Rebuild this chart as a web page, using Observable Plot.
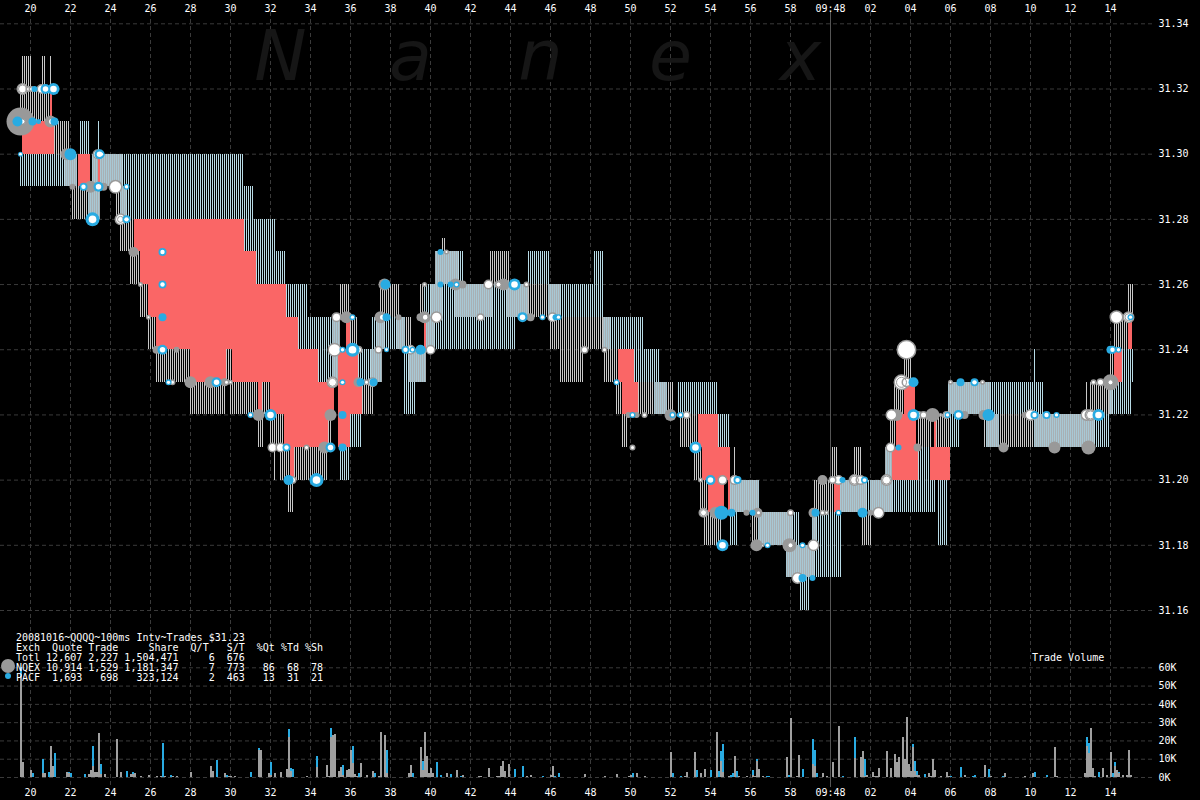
<!DOCTYPE html>
<html><head><meta charset="utf-8">
<script src="https://cdn.jsdelivr.net/npm/d3@7"></script>
<script src="https://cdn.jsdelivr.net/npm/@observablehq/plot@0.6"></script>
<style>
html,body{margin:0;padding:0;background:#000;overflow:hidden}
#wrap{position:relative;width:1200px;height:800px;background:#000}
#wrap svg{display:block}
#legend{position:absolute;left:16px;top:633px;margin:0;color:#fff;font:10px/10px "DejaVu Sans Mono",monospace;white-space:pre}
#volTitle{position:absolute;left:1032px;top:653px;color:#fff;font:10px/10px "DejaVu Sans Mono",monospace}
.mk{position:absolute;border-radius:50%}
</style></head><body>
<svg width="0" height="0" style="position:absolute">
<defs>
<pattern id="stripeGrey" patternUnits="userSpaceOnUse" width="2" height="2"><rect width="1" height="2" fill="#c8c8c8"/></pattern>
<pattern id="stripeCyan" patternUnits="userSpaceOnUse" width="2" height="2"><rect width="1" height="2" fill="#b8dbe6"/></pattern>
<pattern id="stripeMix" patternUnits="userSpaceOnUse" width="2" height="2"><rect width="2" height="2" fill="#a8b0b4"/><rect width="1" height="2" fill="#a8c8d4"/></pattern>
</defs></svg>
<div id="wrap">
<div id="top"></div><div id="bottom"></div>
<pre id="legend">20081016~QQQQ~100ms Intv~Trades $31.23
Exch  Quote Trade     Share  Q/T   S/T  %Qt %Td %Sh
Totl 12,607 2,227 1,504,471     6  676
NQEX 10,914 1,529 1,181,347     7  773   86  68  78
PACF  1,693   698   323,124     2  463   13  31  21</pre>
<div id="volTitle">Trade Volume</div>
<div class="mk" style="left:1px;top:659px;width:14px;height:14px;background:#999"></div>
<div class="mk" style="left:5px;top:673px;width:6px;height:6px;background:#29abe2"></div>
</div>
<script>
// Time in seconds after 09:47:00, prices in dollars, volume in thousands of shares
const secondTicks = d3.range(20, 76, 2);
const priceTicks = [31.16,31.18,31.20,31.22,31.24,31.26,31.28,31.30,31.32,31.34];
const volumeTicks = [0,10,20,30,40,50,60];
const watermarkLetters = ["N","a","n","e","x"];
const watermarkTimes = [32.5,39,45.5,52,58.5];

// [t1, t2, low, high]
const greyQuotes = [
[19.6,20.1,31.32,31.33],[20.6,20.8,31.32,31.33],[21,21.1,31.32,31.33],[19.5,21,31.31,31.32],[21.2,22,31.30,31.31],
[22.1,22.9,31.28,31.29],[24.3,24.5,31.28,31.29],[24.5,25.2,31.27,31.28],[25,25.5,31.26,31.27],[25.5,25.9,31.25,31.26],
[25.9,26.3,31.24,31.25],[26.3,28,31.23,31.24],[29.8,30.1,31.23,31.24],[28,29.8,31.22,31.23],[30,31.4,31.22,31.23],
[31.6,32,31.22,31.23],[36.6,37.2,31.22,31.23],[31.4,31.65,31.21,31.22],[32,32.7,31.21,31.22],[34.9,35.05,31.21,31.22],
[32.2,32.25,31.20,31.21],[32.5,33,31.20,31.21],[33.2,34.85,31.20,31.21],[32.9,33.15,31.19,31.20],[35.5,35.95,31.25,31.26],
[36,36.35,31.24,31.25],[37.5,38.45,31.25,31.26],[38.75,39.05,31.24,31.25],[39.5,39.7,31.25,31.26],[40.6,40.8,31.27,31.274],
[43,43.95,31.26,31.27],[44.9,45.9,31.25,31.26],[45.95,48.65,31.24,31.25],[46.5,47.65,31.23,31.24],[48.7,49.4,31.23,31.24],
[49.3,49.6,31.22,31.23],[50.4,51.2,31.22,31.23],[51.85,52.15,31.22,31.23],[49.6,49.9,31.21,31.22],[52.5,53.4,31.21,31.22],
[53.2,53.6,31.20,31.21],[55.2,55.25,31.20,31.21],[53.5,53.9,31.19,31.20],[54.75,54.8,31.19,31.20],[53.7,54.55,31.18,31.19],
[56.1,56.4,31.18,31.19],[59.2,60.2,31.19,31.20],[60.1,60.4,31.20,31.21],[61.2,61.6,31.20,31.21],[61.6,62.1,31.18,31.19],
[63,63.3,31.21,31.22],[64.35,65.1,31.21,31.22],[65.25,66,31.21,31.22],[63.2,63.7,31.22,31.23],[63.7,64.1,31.23,31.24],
[65.05,65.1,31.22,31.23],[67.7,67.8,31.21,31.22],[68.45,70.2,31.21,31.22],[72.8,72.85,31.22,31.23],[73,74,31.22,31.23],
[74,74.2,31.23,31.24],[74.2,74.9,31.24,31.25],[74.9,75.15,31.25,31.26]];

const cyanQuotes = [
[19.5,21.75,31.29,31.30],[22.45,23,31.30,31.31],[23.4,23.5,31.30,31.31],[21.35,21.4,31.28,31.29],[24.6,30.7,31.29,31.30],
[24.8,31.2,31.28,31.29],[30.7,32.3,31.27,31.28],[31.3,32.8,31.26,31.27],[32.8,33.9,31.25,31.26],[33.4,35.1,31.24,31.25],
[34.4,35.1,31.23,31.24],[36,36.6,31.21,31.22],[35.45,36,31.20,31.21],[36.4,37.05,31.23,31.24],[37.05,37.35,31.24,31.25],
[37.7,38.35,31.24,31.25],[38.65,38.95,31.23,31.24],[38.65,39.3,31.22,31.23],[39.7,40.05,31.25,31.26],[40.2,44.3,31.24,31.25],
[40.6,41.25,31.25,31.26],[43.1,43.85,31.25,31.26],[41.4,41.65,31.26,31.27],[44.85,46,31.26,31.27],[48.15,48.7,31.25,31.27],
[46.5,48.15,31.25,31.26],[49,50.7,31.24,31.25],[50.2,51.5,31.23,31.24],[52.35,54.4,31.22,31.23],[54.4,55,31.21,31.22],
[55.85,55.9,31.20,31.21],[54.95,55.4,31.18,31.19],[56.45,56.5,31.19,31.20],[58.1,58.5,31.18,31.19],[59.2,60.6,31.17,31.19],
[58.45,59,31.16,31.17],[61.8,62,31.19,31.20],[63.1,65.3,31.19,31.20],[65.35,65.9,31.18,31.20],[64.4,65,31.20,31.21],
[66,66.5,31.21,31.22],[68,70.7,31.22,31.23],[70.15,70.3,31.23,31.24],[73.2,74,31.21,31.22],[74.1,75.1,31.22,31.23],
[74.6,75.2,31.23,31.24]];

const sharedQuotes = [
[21.75,22.35,31.29,31.30],[23.1,24.6,31.29,31.30],[22.9,23.5,31.28,31.29],[24.5,24.8,31.28,31.29],[35.1,35.5,31.24,31.25],
[35.1,35.4,31.23,31.24],[37.35,37.7,31.24,31.25],[37.05,37.6,31.23,31.24],[38.35,38.75,31.24,31.25],[38.95,39.8,31.23,31.24],
[40.05,40.6,31.25,31.26],[41.25,43.1,31.25,31.26],[43.85,44.9,31.25,31.26],[45.9,46.5,31.25,31.26],[38.5,38.65,31.24,31.25],
[39.8,40.2,31.24,31.25],[40.25,41.4,31.26,31.27],[48.65,49,31.24,31.25],[51.2,51.85,31.22,31.23],[55,56.45,31.19,31.20],
[56.4,58.1,31.18,31.19],[57.8,59.2,31.17,31.18],[59.1,59.3,31.18,31.19],[60.5,61.8,31.19,31.20],[62,63.1,31.19,31.20],
[62.75,63.1,31.20,31.21],[65.9,68,31.22,31.23],[67.8,68.45,31.21,31.22],[70.2,73.2,31.21,31.22],[73.95,74.1,31.22,31.23]];

const crossedQuotes = [
[21,21.1,31.31,31.32],[19.6,21.2,31.30,31.31],[22.4,23,31.29,31.30],[23.4,23.5,31.29,31.30],[25.2,30.7,31.27,31.28],
[25.5,31.3,31.26,31.27],[25.9,32.8,31.25,31.26],[26.3,33.4,31.24,31.25],[28,29.8,31.23,31.24],[30.1,34.4,31.23,31.24],
[31.4,31.6,31.22,31.23],[32,35.2,31.22,31.23],[35.4,36.6,31.22,31.23],[35.4,36.4,31.23,31.24],[35.8,36,31.24,31.25],
[32.7,34.9,31.21,31.22],[35.4,36,31.21,31.22],[33,33.2,31.20,31.21],[39.7,39.8,31.24,31.25],[49.4,50.2,31.23,31.24],
[49.6,50.4,31.22,31.23],[53.4,54.4,31.21,31.22],[53.6,55,31.20,31.21],[53.9,54.7,31.19,31.20],[54.9,55,31.19,31.20],
[60.2,60.5,31.19,31.20],[63.7,64.25,31.22,31.23],[63.3,64.3,31.21,31.22],[63.1,64.4,31.20,31.21],[65,66,31.20,31.21],
[65.2,65.3,31.21,31.22],[74.9,75.1,31.24,31.25],[74.2,74.6,31.23,31.24]];

// [t, price, radius]
const nqexTrades = [
[19.5,31.31,14],[21,31.31,6],[21.8,31.30,6],[22.1,31.29,3],[23,31.29,6],[23.65,31.29,4],[25.15,31.27,5],[26.3,31.24,4],
[27.3,31.24,3],[28,31.23,6],[29,31.23,6],[29.7,31.23,4],[31.4,31.22,6],[34.7,31.21,6],[35,31.22,6],[36.4,31.23,5],
[35.8,31.25,6],[37.5,31.25,6],[38.4,31.25,3],[39.5,31.25,4],[37.7,31.26,6],[39.7,31.25,6],[41.25,31.26,6],[41.6,31.26,4],
[43.65,31.26,6],[45,31.25,4],[49.9,31.22,3],[50.3,31.22,3],[52,31.22,6],[54.25,31.19,6],[55,31.19,3],[55.8,31.19,3],
[56.35,31.19,5],[56.3,31.18,6],[57.95,31.18,7],[59.15,31.19,5],[59.6,31.20,5],[62,31.19,3],[64.35,31.21,4],[63.3,31.22,6],
[65.1,31.22,7],[66.7,31.22,4],[67.65,31.22,5],[68.65,31.21,5],[69.7,31.22,3],[71.2,31.21,6],[72.9,31.21,7],[74,31.23,8],
[74.4,31.25,5]];
const whiteTrades = [
[19.6,31.32,6],[19.9,31.32,3],[20.05,31.32,3],[20.55,31.32,5],[19.6,31.31,4],[21.05,31.31,4],[23.35,31.30,5],[24.25,31.29,7],
[24.5,31.28,6],[25.5,31.26,2.5],[25.9,31.25,2.5],[27.1,31.23,3],[29.8,31.23,3],[30,31.23,2.5],[32.1,31.21,5],[32.5,31.21,5],
[33.8,31.21,3],[33.1,31.20,4],[35.1,31.23,6],[36.8,31.23,3],[37.1,31.23,5],[35.2,31.24,7],[36.4,31.24,4],[37.4,31.24,4],
[39,31.24,5],[40,31.24,5],[35.3,31.25,5],[37.6,31.25,4],[39.75,31.25,4],[39.7,31.26,2.5],[40.8,31.27,2.5],[42.9,31.26,5],
[43.4,31.26,4],[44.8,31.26,3],[40.3,31.25,6],[42.5,31.25,4],[46.1,31.25,5],[47.7,31.24,4],[48.7,31.24,3],[50.7,31.22,3],
[52.8,31.22,4],[50.1,31.21,3],[53.5,31.20,2.5],[54.6,31.20,5],[55.2,31.20,5],[53.65,31.19,5],[56.4,31.19,3],[58,31.19,3.5],
[56.6,31.18,2],[58,31.18,4],[59.15,31.18,6],[58.35,31.17,6],[59.6,31.19,3],[59.8,31.19,2.5],[62.4,31.19,6],[60.1,31.20,4],
[60.4,31.20,5],[61.2,31.20,6],[61.5,31.20,5],[62.8,31.20,6],[63,31.21,5],[63.05,31.22,6],[64.4,31.22,4],[64.65,31.22,4],
[65.5,31.22,2],[65.8,31.22,4],[63.55,31.23,8],[63.8,31.23,5],[66,31.23,2.5],[67.6,31.23,2.5],[63.8,31.24,10],[70,31.22,6],
[72.8,31.22,6],[73,31.22,6],[73.15,31.23,3],[73.5,31.23,4],[74,31.23,4],[74.3,31.25,7],[74.9,31.25,6]];
const concentricTrades = [
[19.6,31.32,4],[19.6,31.31,2.5],[35.1,31.23,4],[39.7,31.25,3.5],[62.8,31.20,4],[53.65,31.19,3],[74,31.23,2.5],[61.2,31.20,4],
[63.55,31.23,5],[58,31.18,2.5],[24.5,31.28,3],[74.9,31.25,3.5],[73,31.22,4],[43.4,31.26,2.5]];
const pacfTrades = [
[19.35,31.31,5],[20.1,31.31,4],[20.4,31.31,2.5],[21.2,31.31,4],[20.2,31.32,3],[22,31.30,6],[26.6,31.25,4],[32.9,31.20,5],
[35.6,31.22,4],[35.6,31.21,4],[36.5,31.23,4],[37.15,31.23,4],[39.5,31.24,5],[37.8,31.25,4],[37.75,31.26,5],[40.5,31.27,3],
[40.5,31.26,3],[41,31.26,3],[39.55,31.24,4],[46.25,31.25,3],[54.55,31.19,7],[55.05,31.19,4],[56.1,31.19,3],[58.6,31.17,4],
[59.1,31.17,3],[59.25,31.19,4],[60.6,31.20,3],[61.6,31.19,5],[63.4,31.21,3],[64.15,31.23,5],[66.5,31.23,4],[67.9,31.22,6],
[74,31.24,4],[52.4,31.22,2]];
const ringTrades = [
[19.5,31.30,2.5],[20.75,31.32,5],[21.15,31.32,6],[23.45,31.30,5],[23.55,31.30,3],[22.65,31.29,4],[23.4,31.29,5],[24.8,31.29,3],
[23.1,31.28,7],[24.8,31.28,4],[26.6,31.27,4],[26.6,31.26,4],[26.6,31.24,5],[26.9,31.23,3],[29.3,31.23,5],[31,31.22,3],
[32,31.22,6],[32.8,31.21,4],[35,31.21,5],[34.3,31.20,7],[35.6,31.23,3],[35.6,31.24,3],[36.1,31.24,7],[37.8,31.24,2.5],
[39.1,31.24,3],[36.1,31.25,3],[41.3,31.26,3],[44.2,31.26,6],[44.6,31.25,5],[45.6,31.25,3],[46.4,31.25,3],[38.75,31.24,4],
[49.3,31.23,3],[50.1,31.22,3],[52.1,31.22,3],[52.5,31.22,3],[53.25,31.21,6],[54,31.20,5],[55.35,31.20,4],[54.6,31.18,6],
[56.85,31.18,3],[58.6,31.18,3],[60.4,31.19,3],[61.7,31.20,3.5],[64.15,31.22,6],[65.85,31.22,3],[66.4,31.22,5],[67.2,31.23,4],
[70.2,31.22,4],[70.8,31.22,4],[71.3,31.22,3],[73.4,31.22,6],[74.1,31.24,4],[74.4,31.24,3],[75,31.25,3]];

// [bin start, thousands of shares]
const nqexVolume = [
[19.5,55],[19.6,8],[20,4],[20.6,2],[20.7,2],[21,17],[21.1,6],[21.8,3],[21.9,2],[22.9,1.5],[23,4],[23.1,6],[23.2,3],[23.3,3],[23.4,24],[23.5,1.5],[23.7,1.5],
[24.3,21],[24.5,3],[25,1.5],[25.1,1.5],[25.2,2],[25.5,.3],[25.9,1],[26.3,.3],[26.5,.3],[26.7,.3],[27.1,.3],[27.3,.3],[28,3],[29,6],[29.1,3.5],[29.7,2.3],[29.9,.3],[30,.3],[30.2,.3],
[31.4,15],[31.5,15],[31.9,2],[32,1],[32.2,2],[32.5,3],[32.8,4.5],[32.9,22],[33,3.5],[33.8,.3],[34.3,5.5],[34.8,6.5],[34.9,.3],[35,22],[35.1,23],[35.2,23.5],[35.4,3.5],[35.5,5.5],[35.6,1],
[35.8,4],[35.9,4.5],[36,14.5],[36.1,7.5],[36.2,1.5],[36.3,.3],[36.5,7.5],[36.8,1],[37.1,3.5],[37.4,.3],[37.5,24.5],[37.7,23],[37.8,2],
[38.9,2],[39,6.5],[39.5,16.5],[39.6,4],[39.7,24.5],[39.8,11.5],[39.9,2],[40,5],[40.1,2],[40.8,2],[41.3,4],[41.6,1],[42.4,.4],[42.5,.4],[42.9,5],[43.3,.4],[43.4,.4],[43.5,6],[43.6,9],[43.7,3.5],[43.9,7],
[44.8,.4],[45,1],[46,1],[46.1,6],[47.7,1.5],[48.7,.3],[49.3,1.5],[49.9,.3],[50,1],[50.3,2],[50.7,.3],[52,13.5],[52.7,.3],[52.8,3],[53.2,13.5],[53.5,2],[53.7,4.5],[54.3,24.5],[54.5,9],[54.6,3],[54.9,.3],
[55.2,11.5],[55.4,.3],[55.8,.3],[56.1,1],[56.2,.3],[56.3,8.5],[56.4,4.5],[56.6,.3],[57.8,11],[58,32.5],[58.3,.3],[58.4,12],[59.1,7],[59.2,6],
[59.6,2],[59.8,.3],[60.1,8],[60.4,28],[61.2,10.5],[61.5,11],[61.6,14],[61.7,.5],[61.8,1],[62.1,3],[62.2,.3],[62.3,.3],[62.4,5],[62.8,14],[63,5],[63.2,12.5],[63.3,8],[63.4,11],[63.6,22],[63.7,10],[63.8,33],[63.9,7],[64,3.5],
[64.1,16.5],[64.2,3.5],[64.3,1],[64.4,1],[64.9,2],[65,.5],[65.1,10],[65.2,4],[65.5,.3],[65.8,3],[65.9,.3],[66.7,1],[67.7,6.5],[68,.3],[68.7,2.2],[69.7,.3],[70.1,2],[71.2,16.5],[71.3,.3],
[72.7,2],[72.8,17],[72.9,13],[73,27],[73.1,5],[73.2,.3],[73.6,5],[73.8,1],[74,13.5],[74.2,6],[74.3,4],[74.4,2],[74.6,1.2],[74.8,1],[74.9,15],[75,1]];
const pacfVolume = [
[19.5,5],[20.1,2],[20.6,8],[20.9,3],[21.2,13],[21.9,.5],[22,2],[22.7,1.5],[23.1,11],[23.5,5.5],[24.8,3.5],[25.1,1],[25.2,.3],[26.6,18.5],[27,1.2],[29.3,9.5],[29.8,1.2],[31,2.5],[31.4,1],[32,7],
[32.9,4],[33,1.5],[33.1,4.5],[34.3,6],[35,5],[35.6,5.5],[36.1,9.5],[36.4,2],[37.2,2],[37.8,13],
[39.1,2],[39.6,5],[40.3,8],[40.5,1],[41,1.5],[41.5,.4],[44.2,4.5],[44.6,6],[45.6,.3],[46.2,.3],[46.4,2],[50.1,2],[52.1,2],[52.5,.3],[53.3,4],[54,4],[54.4,3.5],[54.5,5],[54.6,15],[55,1],[55.1,2],[55.3,3.5],
[56.1,3],[56.3,1.5],[56.8,.3],[56.9,.3],[57.9,1],[58.6,4.5],[59.1,14],[59.2,8.5],[59.3,2],
[60.6,.3],[61.2,11.5],[61.7,9.5],[64.1,1.5],[64.2,5],[64.3,2.5],[64.7,1.5],[66,.3],[66.5,5.5],[67.1,.3],[67.2,1],[67.9,4.5],[68.6,.3],[70.2,2.5],[70.8,1],[72.8,5],[72.9,5.5],[73.4,3],[74.1,2],[74.2,2],[74.4,1]];

const tickLabel = t => t < 60 ? String(t) : t === 60 ? "09:48" : String(t - 60).padStart(2, "0");
const xScale = {domain:[18.5,78.5], range:[0,1200]};
const frameStyle = {background:"#000", color:"#fff", fontFamily:"'DejaVu Sans Mono',monospace", fontSize:"10px"};
const gridColor = "#3a3a3a";
const band = (data, fill) => Plot.rect(data,{x1:d=>d[0],x2:d=>d[1],y1:d=>d[2],y2:d=>d[3],fill,shapeRendering:"crispEdges"});
const dots = (data, fill, extra={}) => Plot.dot(data,{x:d=>d[0],y:d=>d[1],r:d=>(d[2]-(extra.inset||0))*(extra.scale||1),fill,stroke:extra.stroke,strokeWidth:extra.strokeWidth});
const gridTimes = secondTicks.filter(t=>t!==60);

const topPlot = Plot.plot({
  width:1200, height:620, marginLeft:0, marginRight:45, marginTop:12, marginBottom:0,
  style:frameStyle,
  x:xScale,
  y:{domain:[31.34,31.16], range:[23.3,610]},
  r:{type:"identity"},
  marks:[
    Plot.ruleX(gridTimes,{stroke:gridColor,strokeDasharray:"4,3"}),
    Plot.ruleY(priceTicks,{stroke:gridColor,strokeDasharray:"4,3"}),
    Plot.ruleX([60],{stroke:"#555"}),
    Plot.text(watermarkLetters,{x:(d,i)=>watermarkTimes[i],y:()=>31.3295,text:d=>d,fontSize:70,fontFamily:"DejaVu Sans",fontStyle:"italic",fill:"#161616"}),
    band(greyQuotes,"url(#stripeGrey)"),
    band(cyanQuotes,"url(#stripeCyan)"),
    band(sharedQuotes,"url(#stripeMix)"),
    band(crossedQuotes,"#fa6666"),
    dots(nqexTrades,"#999"),
    dots(whiteTrades,"#fff",{stroke:"#999",strokeWidth:1.5,inset:.75}),
    dots(concentricTrades,"none",{stroke:"#999",strokeWidth:1}),
    dots(pacfTrades,"#29abe2"),
    dots(ringTrades,"#29abe2"),
    dots(ringTrades,"#fff",{scale:.55}),
    Plot.axisX(secondTicks,{anchor:"top",tickSize:0,tickPadding:1,tickFormat:tickLabel,label:null}),
    Plot.axisY(priceTicks,{anchor:"right",tickSize:0,tickPadding:3,tickFormat:d=>d.toFixed(2),label:null})
  ]
});

const nqexByBin = new Map(nqexVolume);
const volumeRect = (data, fill, base) => Plot.rect(data,{
  x1:d=>d[0], x2:d=>d[0]+0.1,
  y1:d=>base(d), y2:d=>base(d)+d[1], fill, shapeRendering:"crispEdges"});
const bottomPlot = Plot.plot({
  width:1200, height:180, marginLeft:0, marginRight:45, marginTop:0, marginBottom:13,
  style:frameStyle,
  x:xScale,
  y:{domain:[0,60], range:[157,47.3]},
  marks:[
    Plot.ruleX(gridTimes,{stroke:gridColor,strokeDasharray:"4,3"}),
    Plot.ruleY(volumeTicks,{stroke:gridColor,strokeDasharray:"4,3"}),
    Plot.ruleX([60],{stroke:"#555"}),
    volumeRect(nqexVolume,"#a0a0a0",()=>0),
    volumeRect(pacfVolume,"#29abe2",d=>nqexByBin.get(d[0])||0),
    Plot.axisX(secondTicks,{anchor:"bottom",tickSize:0,tickPadding:1,tickFormat:tickLabel,label:null}),
    Plot.axisY(volumeTicks,{anchor:"right",tickSize:0,tickPadding:3,tickFormat:d=>d+"K",label:null})
  ]
});
document.getElementById("top").append(topPlot);
document.getElementById("bottom").append(bottomPlot);
</script>
</body></html>
